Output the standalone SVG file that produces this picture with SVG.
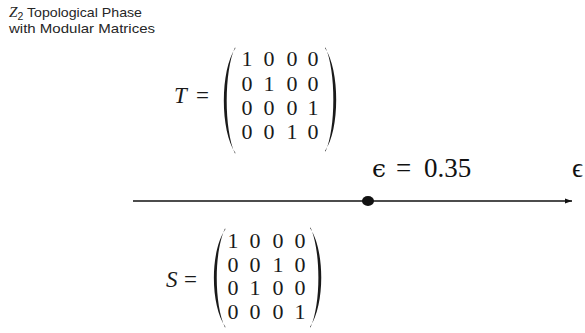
<svg xmlns="http://www.w3.org/2000/svg" width="585" height="333" viewBox="0 0 585 333">
<style>
.title{font-family:"Liberation Sans","Open Sans",sans-serif;font-size:13.5px;fill:#262626}
.m{font-family:"Liberation Serif","DejaVu Serif",serif;font-size:22px;fill:#1a1a1a;text-anchor:middle}
.lbl{font-family:"Liberation Serif","DejaVu Serif",serif;font-size:23px;fill:#1a1a1a}
.it{font-style:italic}
.eps{font-family:"Liberation Serif","DejaVu Serif",serif;font-size:27px;fill:#111}
.paren{fill:#1a1a1a}
.axis{stroke:#111;stroke-width:1.3;fill:none}
</style>
<defs>
<marker id="arrow" markerWidth="8" markerHeight="6" refX="7" refY="3" orient="auto" markerUnits="userSpaceOnUse">
<path d="M0,0.5 L7,3 L0,5.5 Z" fill="#111"/>
</marker>
</defs>
<g id="title">
<text class="title" x="9" y="17" textLength="133" lengthAdjust="spacingAndGlyphs"><tspan font-family="Liberation Serif,serif" font-style="italic" font-size="14.5">Z</tspan><tspan font-size="10" dy="2.5">2</tspan><tspan dy="-2.5"> Topological Phase</tspan></text>
<text class="title" x="9" y="33" textLength="146" lengthAdjust="spacingAndGlyphs">with Modular Matrices</text>
</g>
<g id="connectors">
<line class="axis" x1="133" y1="201" x2="572" y2="201" marker-end="url(#arrow)"/>
</g>
<g id="critical-point">
<ellipse cx="368" cy="201" rx="6" ry="5" fill="#111"/>
</g>
<g id="epsilon-value">
<text class="eps" y="177"><tspan x="372" font-family="DejaVu Serif,serif" font-size="25">ϵ</tspan><tspan x="396">=</tspan><tspan x="424">0.35</tspan></text>
</g>
<g id="epsilon-axis-label">
<text class="eps" x="572" y="177" font-family="DejaVu Serif,serif" font-size="25">ϵ</text>
</g>
<g id="T-matrix">
<text class="lbl" y="103"><tspan class="it" x="174">T</tspan><tspan x="196">=</tspan></text>
<path class="paren" d="M235.5,48 C220,70 220,131 235.5,153 L235,153.5 C224,130 224,71 235,47.5 Z"/>
<path class="paren" d="M325,48 C340,70 340,130 325,151 L325.5,151.5 C336,129 336,71 325.5,47.5 Z"/>
<text class="m"><tspan x="247" y="66">1</tspan><tspan x="269" y="66">0</tspan><tspan x="292" y="66">0</tspan><tspan x="313" y="66">0</tspan></text>
<text class="m"><tspan x="247" y="91">0</tspan><tspan x="269" y="91">1</tspan><tspan x="292" y="91">0</tspan><tspan x="313" y="91">0</tspan></text>
<text class="m"><tspan x="247" y="115">0</tspan><tspan x="269" y="115">0</tspan><tspan x="292" y="115">0</tspan><tspan x="313" y="115">1</tspan></text>
<text class="m"><tspan x="247" y="139">0</tspan><tspan x="269" y="139">0</tspan><tspan x="292" y="139">1</tspan><tspan x="313" y="139">0</tspan></text>
</g>
<g id="S-matrix">
<text class="lbl" y="287" font-size="22"><tspan class="it" x="166">S</tspan><tspan x="184">=</tspan></text>
<path class="paren" d="M225.5,229 C210,251 210,305 225.5,327 L225,327.5 C214,304 214,252 225,228.5 Z"/>
<path class="paren" d="M310,228 C325,250 325,305 310,327 L310.5,327.5 C321,304 321,251 310.5,227.5 Z"/>
<text class="m" font-size="21"><tspan x="233" y="248">1</tspan><tspan x="255" y="248">0</tspan><tspan x="278" y="248">0</tspan><tspan x="300" y="248">0</tspan></text>
<text class="m" font-size="21"><tspan x="233" y="272">0</tspan><tspan x="255" y="272">0</tspan><tspan x="278" y="272">1</tspan><tspan x="300" y="272">0</tspan></text>
<text class="m" font-size="21"><tspan x="233" y="295">0</tspan><tspan x="255" y="295">1</tspan><tspan x="278" y="295">0</tspan><tspan x="300" y="295">0</tspan></text>
<text class="m" font-size="21"><tspan x="233" y="319">0</tspan><tspan x="255" y="319">0</tspan><tspan x="278" y="319">0</tspan><tspan x="300" y="319">1</tspan></text>
</g>
</svg>
